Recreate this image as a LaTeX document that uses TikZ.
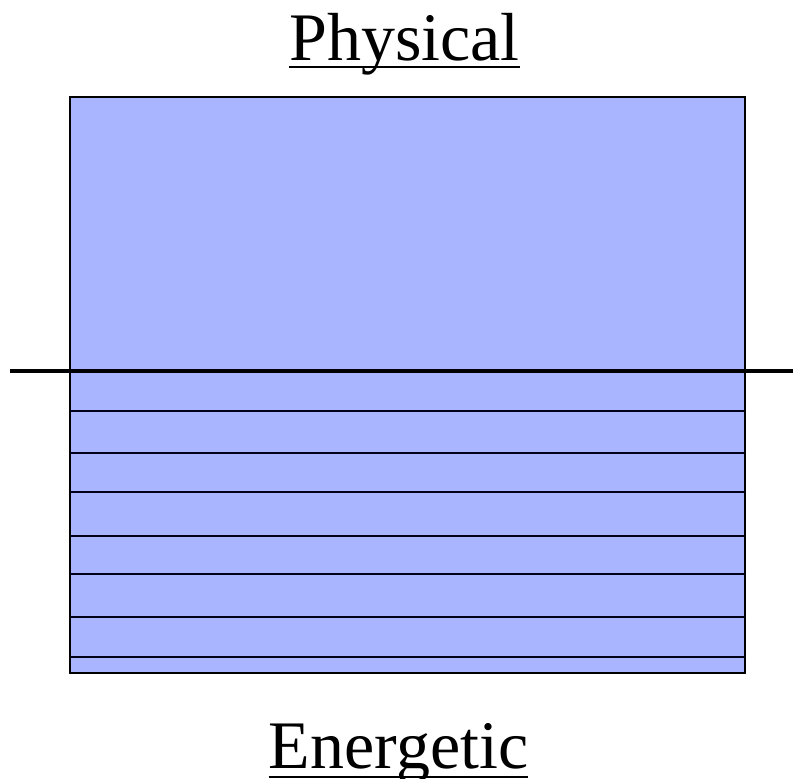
\documentclass[tikz,border=0pt]{standalone}
\usepackage{fontspec}
\setmainfont{Liberation Serif}
\definecolor{boxfill}{RGB}{170,181,255}
\begin{document}
\begin{tikzpicture}[x=1pt,y=-1pt,
  lbl/.style={inner sep=0pt,anchor=base,font=\fontsize{68}{80}\selectfont},
  uline/.style={line width=2.5pt},
  level/.style={line width=2pt,draw=black!90!blue}]
\useasboundingbox (0,0) rectangle (793,779);
\fill[white] (0,0) rectangle (793,779);
\node[lbl] (P) at (404.5,60) {Physical};
\draw[uline] ([yshift=-7pt]P.base west) -- ([yshift=-7pt]P.base east);
\node[lbl] (E) at (398.5,768) {Energetic};
\draw[uline] ([yshift=-9pt]E.base west) -- ([yshift=-9pt]E.base east);
\node[draw=black,line width=2pt,fill=boxfill,minimum width=675pt,minimum height=576pt,inner sep=0pt] (box) at (407.5,385) {};
\foreach \yy in {411,453,492,536,574,617,657}{
  \coordinate (l\yy) at (70,\yy);
  \coordinate (r\yy) at (745,\yy);
  \draw[level] (l\yy) -- (r\yy);
}
\coordinate (hl) at (10,371);
\coordinate (hr) at (793,371);
\draw[line width=4pt] (hl) -- (hr);
\end{tikzpicture}
\end{document}
